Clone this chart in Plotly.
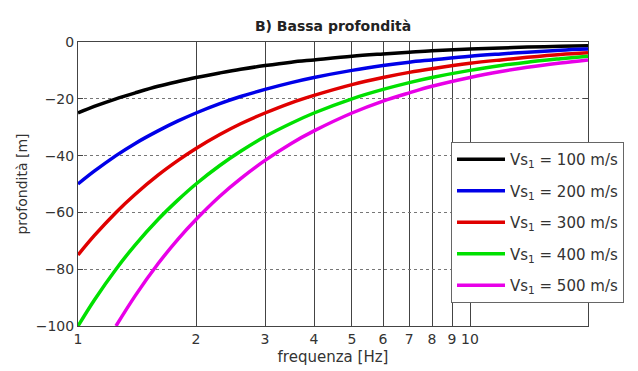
import plotly.graph_objects as go

freq = [1, 1.1, 1.25, 1.4, 1.6, 1.8, 2, 2.3, 2.6, 3, 3.5, 4, 5, 6, 7, 8, 10, 12, 14, 17, 20]

depth_100 = [-25, -22.7, -20, -17.9, -15.6, -13.9, -12.5, -10.9, -9.6, -8.3, -7.1, -6.3, -5, -4.2, -3.6, -3.1, -2.5, -2.1, -1.8, -1.5, -1.3]
depth_200 = [-50, -45.5, -40, -35.7, -31.3, -27.8, -25, -21.7, -19.2, -16.7, -14.3, -12.5, -10, -8.3, -7.1, -6.3, -5, -4.2, -3.6, -2.9, -2.5]
depth_300 = [-75, -68.2, -60, -53.6, -46.9, -41.7, -37.5, -32.6, -28.8, -25, -21.4, -18.8, -15, -12.5, -10.7, -9.4, -7.5, -6.3, -5.4, -4.4, -3.8]
depth_400 = [-100, -90.9, -80, -71.4, -62.5, -55.6, -50, -43.5, -38.5, -33.3, -28.6, -25, -20, -16.7, -14.3, -12.5, -10, -8.3, -7.1, -5.9, -5]
depth_500 = [None, None, -100, -89.3, -78.1, -69.4, -62.5, -54.3, -48.1, -41.7, -35.7, -31.3, -25, -20.8, -17.9, -15.6, -12.5, -10.4, -8.9, -7.4, -6.3]

series_names = ["Vs<sub>1</sub> = 100 m/s", "Vs<sub>1</sub> = 200 m/s", "Vs<sub>1</sub> = 300 m/s",
                "Vs<sub>1</sub> = 400 m/s", "Vs<sub>1</sub> = 500 m/s"]
series_values = [depth_100, depth_200, depth_300, depth_400, depth_500]
series_colors = ["#000000", "#0000e8", "#e00000", "#00e000", "#e800e8"]

x_tickvals = [1, 2, 3, 4, 5, 6, 7, 8, 9, 10]
x_ticktext = ["1", "2", "3", "4", "5", "6", "7", "8", "9", "10"]
y_tickvals = [0, -20, -40, -60, -80, -100]

FONT = "DejaVu Sans, Verdana, sans-serif"
TXT = "#333"

# the page body adds an 8px offset, so the figure is sized to fit the window
W, H = 630, 363
L, R, T, B = 70, 50, 34, 45

fig = go.Figure()
for i, (name, vals, col) in enumerate(zip(series_names, series_values, series_colors)):
    fig.add_trace(go.Scatter(
        x=freq, y=vals, mode="lines", name=name, legendgroup=f"g{i}",
        line=dict(color=col, width=3.5, shape="spline"),
    ))

fig.update_layout(
    width=W, height=H,
    margin=dict(l=L, r=R, t=T, b=B, autoexpand=False),
    paper_bgcolor="white", plot_bgcolor="white",
    font=dict(family=FONT, size=14, color=TXT),
    title=dict(text="<b>B) Bassa profondità</b>", x=0.5, xref="paper", y=1 - 18 / H,
               yanchor="middle", xanchor="center", font=dict(size=14, color="#222"),
               automargin=False),
    showlegend=True,
    legend=dict(
        x=(443 - L) / (W - L - R), y=(H - B - 134) / (H - T - B), xanchor="left", yanchor="top",
        bgcolor="white", bordercolor="#666", borderwidth=1,
        font=dict(size=15, color=TXT), tracegroupgap=9,
        itemwidth=48,
    ),
)

fig.update_xaxes(
    type="log", range=[0, 1.30103],
    tickvals=x_tickvals, ticktext=x_ticktext,
    showgrid=True, gridcolor="#444", gridwidth=1,
    showline=True, linecolor="#444", linewidth=1, mirror="ticks",
    ticks="inside", ticklen=5, tickcolor="#444",
    title=dict(text="frequenza [Hz]", font=dict(size=15), standoff=5),
    zeroline=False, automargin=False,
)
fig.update_yaxes(
    range=[-100, 0], tickvals=y_tickvals,
    showgrid=True, gridcolor="#777", gridwidth=1, griddash="dot",
    showline=True, linecolor="#444", linewidth=1, mirror="ticks",
    ticks="inside", ticklen=5, tickcolor="#444",
    title=dict(text="profondità [m]", font=dict(size=14), standoff=4),
    zeroline=False, automargin=False,
)

fig.write_html("out.html")
